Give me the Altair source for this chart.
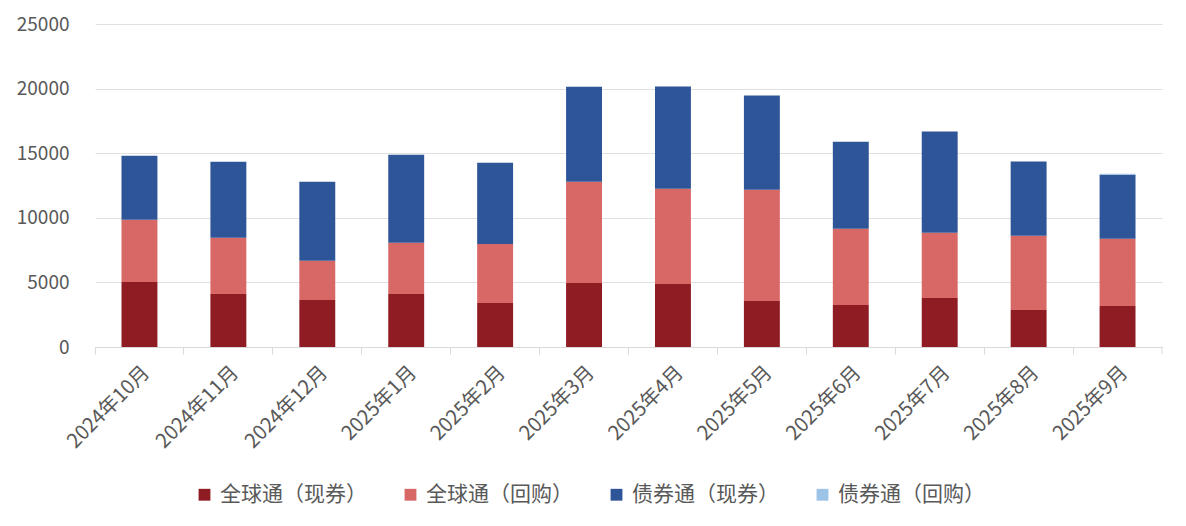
import altair as alt
import pandas as pd

months = ["2024年10月", "2024年11月", "2024年12月", "2025年1月", "2025年2月", "2025年3月",
          "2025年4月", "2025年5月", "2025年6月", "2025年7月", "2025年8月", "2025年9月"]
series = ["全球通（现券）", "全球通（回购）", "债券通（现券）", "债券通（回购）"]
colors = ["#8E1C22", "#D86866", "#2E5597", "#9DC3E6"]

global_spot = [5040, 4110, 3640, 4110, 3410, 4960, 4880, 3570, 3260, 3800, 2870, 3180]
global_repo = [4800, 4340, 3030, 3950, 4570, 7830, 7370, 8600, 5890, 5040, 5740, 5190]
bond_spot = [4960, 5890, 6120, 6820, 6280, 7360, 7910, 7290, 6740, 7830, 5740, 4960]
bond_repo = [0, 0, 0, 0, 0, 0, 0, 0, 0, 0, 0, 80]

rows = []
for si, (name, vals) in enumerate(zip(series, [global_spot, global_repo, bond_spot, bond_repo])):
    for m, v in zip(months, vals):
        rows.append({"month": m, "series": name, "value": v, "idx": si})
df = pd.DataFrame(rows)

W, H = 1067, 323
FONT = "Noto Sans CJK SC"

bars = alt.Chart(df).mark_bar(width=alt.RelativeBandSize(0.404)).encode(
    x=alt.X("month:N", sort=months, title=None,
            scale=alt.Scale(paddingInner=0, paddingOuter=0),
            axis=alt.Axis(bandPosition=0, labelAngle=-45,
                          labelFontSize=20, labelColor="#595959", labelFont=FONT,
                          tickSize=7, tickColor="#D9D9D9", domainColor="#D9D9D9",
                          labelPadding=8, grid=False)),
    y=alt.Y("value:Q", stack="zero", title=None,
            scale=alt.Scale(domain=[0, 25000], nice=False),
            axis=alt.Axis(values=[0, 5000, 10000, 15000, 20000, 25000], format="d",
                          domain=False, ticks=False, labelPadding=26,
                          labelFontSize=19, labelColor="#595959", labelFont=FONT,
                          gridColor="#E0E0E0")),
    color=alt.Color("series:N", sort=series,
                    scale=alt.Scale(domain=series, range=colors),
                    legend=alt.Legend(title=None, orient="none", legendX=99, legendY=460,
                                      direction="horizontal", columns=4, columnPadding=33,
                                      symbolType="square", symbolSize=140, symbolStrokeWidth=0,
                                      labelFontSize=21, labelColor="#595959", labelFont=FONT,
                                      labelOffset=5, labelLimit=300)),
    order=alt.Order("idx:Q", sort="ascending"),
)

end_tick = alt.Chart(pd.DataFrame({"a": [0]})).mark_rule(color="#D9D9D9").encode(
    x=alt.value(W), y=alt.value(H), y2=alt.value(H + 7)
)

chart = alt.layer(bars, end_tick).properties(
    width=W, height=H,
    autosize=alt.AutoSizeParams(type="none"),
    padding={"left": 87, "top": 16, "right": 16, "bottom": 170},
).configure(background="white").configure_view(stroke=None)

chart.save("out.html", embed_options={"renderer": "svg", "actions": False})
